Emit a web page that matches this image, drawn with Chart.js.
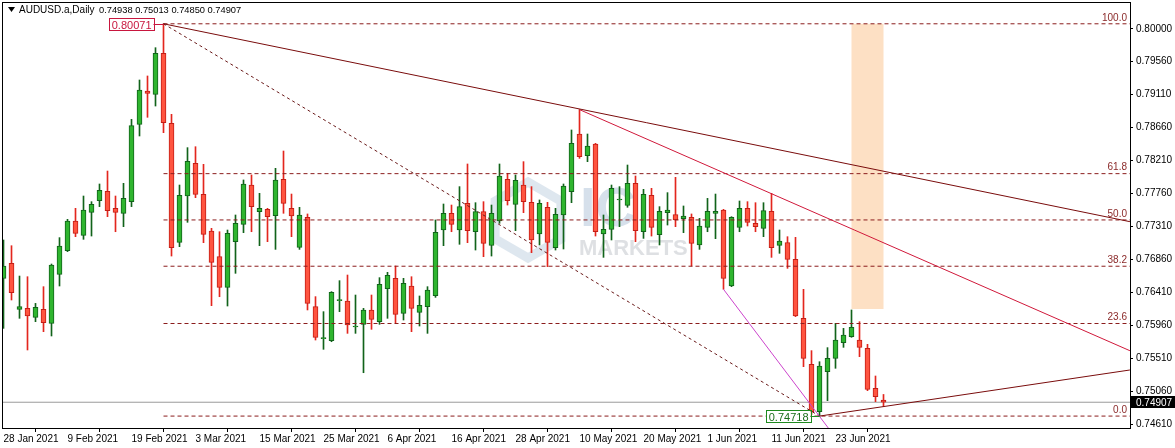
<!DOCTYPE html>
<html>
<head>
<meta charset="utf-8">
<script src="https://cdn.jsdelivr.net/npm/chart.js@4.4.0/dist/chart.umd.min.js"></script>
<style>
  html, body { margin: 0; padding: 0; background: #fff; overflow: hidden; }
  canvas { display: block; }
</style>
</head>
<body>
<canvas id="chart" width="1175" height="448"></canvas>
<script>
// Symbol info
const symbol = "AUDUSD.a";
const period = "Daily";

// Date ticks (bar index -> label)
const tickIndex = [0, 8, 16, 24, 32, 40, 48, 56, 64, 72, 80, 88, 96, 104];
const tickLabels = ["28 Jan 2021", "9 Feb 2021", "19 Feb 2021", "3 Mar 2021", "15 Mar 2021",
  "25 Mar 2021", "6 Apr 2021", "16 Apr 2021", "28 Apr 2021", "10 May 2021", "20 May 2021",
  "1 Jun 2021", "11 Jun 2021", "23 Jun 2021"];

const priceTicks = [0.80000, 0.79560, 0.79110, 0.78660, 0.78210, 0.77760, 0.77310,
  0.76860, 0.76410, 0.75960, 0.75510, 0.75060, 0.74610];

// Daily candles
const opens = [
  0.76598, 0.76802, 0.76175, 0.76188, 0.76065, 0.76175, 0.75984, 0.76652, 0.76975, 0.77380,
  0.77184, 0.77498, 0.77658, 0.77785, 0.77553, 0.77485, 0.77644, 0.78699, 0.79154, 0.79109,
  0.79668, 0.78713, 0.77089, 0.77721, 0.78167, 0.77744, 0.77244, 0.76893, 0.76475, 0.77098,
  0.77335, 0.77871, 0.77507, 0.77539, 0.77453, 0.77949, 0.77553, 0.77021, 0.77430, 0.76211,
  0.75774, 0.75747, 0.76293, 0.76288, 0.75934, 0.75970, 0.76166, 0.76006, 0.76457, 0.76598,
  0.76120, 0.76493, 0.76134, 0.76211, 0.76361, 0.77257, 0.77485, 0.77257, 0.77621, 0.77234,
  0.77507, 0.77048, 0.77380, 0.77949, 0.77608, 0.77871, 0.77635, 0.77203, 0.77567, 0.77016,
  0.77462, 0.77780, 0.78567, 0.78272, 0.78431, 0.77203, 0.77266, 0.77667, 0.77594, 0.77894,
  0.77234, 0.77730, 0.77194, 0.77494, 0.77467, 0.77412, 0.77430, 0.77053, 0.77294, 0.77485,
  0.77530, 0.76493, 0.77294, 0.77553, 0.77348, 0.77280, 0.77512, 0.77048, 0.77084, 0.76857,
  0.76052, 0.75424, 0.74778, 0.75324, 0.75506, 0.75720, 0.75802, 0.75756, 0.75642, 0.75097,
  0.74938
];
const highs = [
  0.77121, 0.77043, 0.76629, 0.76620, 0.76256, 0.76484, 0.76793, 0.77153, 0.77403, 0.77553,
  0.77721, 0.77644, 0.77885, 0.78062, 0.77721, 0.77894, 0.78767, 0.79304, 0.79359, 0.79745,
  0.80071, 0.78836, 0.77871, 0.78381, 0.78394, 0.78153, 0.77280, 0.77234, 0.77257, 0.77462,
  0.77940, 0.78008, 0.77758, 0.77553, 0.78099, 0.78335, 0.77748, 0.77567, 0.77476, 0.76348,
  0.76143, 0.76416, 0.76566, 0.76643, 0.76370, 0.76188, 0.76370, 0.76607, 0.76680, 0.76766,
  0.76598, 0.76620, 0.76357, 0.76484, 0.77394, 0.77612, 0.77598, 0.77849, 0.78158, 0.77630,
  0.77644, 0.77598, 0.78158, 0.78031, 0.78008, 0.78190, 0.77849, 0.77667, 0.77635, 0.77553,
  0.77885, 0.78622, 0.78900, 0.78567, 0.78440, 0.77462, 0.77871, 0.77849, 0.78144, 0.77994,
  0.77812, 0.77826, 0.77576, 0.77767, 0.77976, 0.77585, 0.77476, 0.77416, 0.77689, 0.77748,
  0.77539, 0.77439, 0.77653, 0.77644, 0.77630, 0.77630, 0.77758, 0.77257, 0.77166, 0.77157,
  0.76448, 0.75611, 0.75460, 0.75652, 0.75984, 0.75915, 0.76166, 0.76006, 0.75697, 0.75265,
  0.75013
];
const lows = [
  0.75915, 0.76302, 0.76052, 0.75620, 0.76006, 0.75870, 0.75811, 0.76493, 0.76962, 0.77166,
  0.77130, 0.77175, 0.77576, 0.77439, 0.77234, 0.77303, 0.77576, 0.78540, 0.78795, 0.78949,
  0.78585, 0.76902, 0.77030, 0.77362, 0.77698, 0.77084, 0.76225, 0.76347, 0.76220, 0.76666,
  0.77221, 0.77234, 0.77043, 0.77098, 0.76993, 0.77485, 0.77166, 0.76993, 0.76166, 0.75756,
  0.75629, 0.75733, 0.76143, 0.75847, 0.75847, 0.75310, 0.75902, 0.75970, 0.76052, 0.75993,
  0.76029, 0.75870, 0.75947, 0.75847, 0.76338, 0.77043, 0.77234, 0.77062, 0.77084, 0.76984,
  0.76893, 0.76902, 0.77348, 0.77598, 0.77248, 0.77494, 0.76948, 0.77053, 0.76757, 0.76984,
  0.76998, 0.77630, 0.78235, 0.78190, 0.77175, 0.76884, 0.77121, 0.77303, 0.77567, 0.77098,
  0.77143, 0.77175, 0.77053, 0.77325, 0.77303, 0.77221, 0.76766, 0.76993, 0.77234, 0.77139,
  0.76448, 0.76484, 0.77234, 0.77312, 0.77234, 0.77166, 0.76884, 0.76939, 0.76734, 0.76075,
  0.75392, 0.74740, 0.74718, 0.74928, 0.75370, 0.75656, 0.75793, 0.75529, 0.75065, 0.74915,
  0.74850
];
const closes = [
  0.76766, 0.76402, 0.76211, 0.76084, 0.76202, 0.75993, 0.76780, 0.77039, 0.77380, 0.77212,
  0.77530, 0.77608, 0.77798, 0.77521, 0.77498, 0.77689, 0.78681, 0.79168, 0.79122, 0.79668,
  0.78722, 0.77016, 0.77730, 0.78194, 0.77744, 0.77198, 0.76816, 0.76475, 0.77212, 0.77348,
  0.77885, 0.77576, 0.77553, 0.77439, 0.77940, 0.77621, 0.77448, 0.77462, 0.76257, 0.75793,
  0.75783, 0.76407, 0.76307, 0.75961, 0.75947, 0.76166, 0.76038, 0.76516, 0.76639, 0.76106,
  0.76529, 0.76188, 0.76229, 0.76438, 0.77225, 0.77485, 0.77335, 0.77576, 0.77248, 0.77507,
  0.77075, 0.77485, 0.77994, 0.77658, 0.77935, 0.77644, 0.77121, 0.77621, 0.77089, 0.77471,
  0.77858, 0.78440, 0.78258, 0.78403, 0.77234, 0.77266, 0.77826, 0.77676, 0.77894, 0.77248,
  0.77744, 0.77294, 0.77512, 0.77530, 0.77394, 0.77448, 0.77075, 0.77312, 0.77512, 0.77512,
  0.76598, 0.77430, 0.77553, 0.77362, 0.77303, 0.77521, 0.77016, 0.77107, 0.76857, 0.76084,
  0.75506, 0.74778, 0.75401, 0.75506, 0.75756, 0.75824, 0.75929, 0.75656, 0.75083, 0.74983,
  0.74907
];

// Drawing objects (bar index, price)
const fibHigh = 0.80071, fibLow = 0.74718;
const fibFromBar = 20, fibToBar = 102;
const fibLevels = [0, 23.6, 38.2, 50, 61.8, 100];
const trendA = [[20, 0.80071], [140.8, 0.77371]];
const trendB = [[72, 0.78900], [140.8, 0.75610]];
const trendC = [[102, 0.74718], [140.8, 0.75347]];
const magentaLine = [[90, 0.76448], [103.1, 0.74555]];
const zoneBars = [106, 110];
const zonePrices = [0.76179, 0.80071];
const lastPrice = 0.74907;

// Axis window
const xMin = -0.1875, xMax = 140.8125;
const yMin = 0.7455542, yMax = 0.8036843;

const UP = "#2fb52f", UP_EDGE = "#11631a";
const DOWN = "#ff5440", DOWN_EDGE = "#c41e16", DOWN_WICK = "#e3261e";

const isUp = closes.map((c, i) => c >= opens[i]);
const fibPrice = (lvl) => fibLow + (fibHigh - fibLow) * lvl / 100;

function lineSet(points, color, dash, order) {
  return {
    type: "line",
    data: points.map(([x, y]) => ({ x, y })),
    borderColor: color,
    borderWidth: 1,
    borderDash: dash || [],
    pointRadius: 0,
    fill: false,
    tension: 0,
    order: order ?? 0,
  };
}

const datasets = [
  {
    // candle bodies
    data: opens.map((o, i) => ({ x: i, y: [o, closes[i]] })),
    backgroundColor: isUp.map((u) => (u ? UP : DOWN)),
    borderColor: isUp.map((u) => (u ? UP_EDGE : DOWN_EDGE)),
    borderWidth: 1,
    borderSkipped: false,
    barThickness: 5,
    minBarLength: 1,
    grouped: false,
    order: 1,
  },
  {
    // wicks
    data: lows.map((l, i) => ({ x: i, y: [l, highs[i]] })),
    backgroundColor: isUp.map((u) => (u ? UP_EDGE : DOWN_WICK)),
    borderWidth: 0,
    barThickness: 1,
    grouped: false,
    order: 2,
  },
  lineSet([[xMin, lastPrice], [xMax, lastPrice]], "#9a9a9a", null, 3),
  lineSet(trendA, "#7a0c0c"),
  lineSet(trendB, "#d0183a"),
  lineSet(trendC, "#7a0c0c"),
  lineSet(magentaLine, "#cc44cc"),
  lineSet([[fibFromBar, fibHigh], [fibToBar, fibLow]], "#6a1a1a", [3, 3]),
  ...fibLevels.map((lvl) =>
    lineSet([[fibFromBar, fibPrice(lvl)], [xMax, fibPrice(lvl)]], "#8b1c1c", [4, 3])
  ),
];

// Extra drawing: watermark, zone, labels, frame
const overlay = {
  id: "overlay",
  beforeDatasetsDraw(chart) {
    const { ctx, chartArea: a } = chart;
    const X = (v) => chart.scales.x.getPixelForValue(v);
    const Y = (v) => chart.scales.y.getPixelForValue(v);
    ctx.save();
    ctx.beginPath();
    ctx.rect(a.left, a.top, a.right - a.left, a.bottom - a.top);
    ctx.clip();

    // watermark
    ctx.strokeStyle = "rgba(190,208,224,0.5)";
    ctx.lineWidth = 9;
    ctx.beginPath();
    for (let k = 0; k < 6; k++) {
      const ang = Math.PI / 6 + k * Math.PI / 3;
      const px = 528 + 38 * Math.cos(ang), py = 220 + 38 * Math.sin(ang);
      k ? ctx.lineTo(px, py) : ctx.moveTo(px, py);
    }
    ctx.closePath();
    ctx.stroke();
    ctx.fillStyle = "rgba(186,204,222,0.6)";
    ctx.font = "bold 56px 'Liberation Sans', Arial, sans-serif";
    ctx.textBaseline = "alphabetic";
    ctx.fillText("IC", 580, 226);
    ctx.fillStyle = "rgba(190,194,200,0.5)";
    ctx.font = "bold 22px 'Liberation Sans', Arial, sans-serif";
    ctx.fillText("MARKETS", 579, 255);

    // target zone
    ctx.fillStyle = "#fde0c4";
    const zx = X(zoneBars[0]), zy = Y(zonePrices[1]);
    ctx.fillRect(zx, zy, X(zoneBars[1]) - zx, Y(zonePrices[0]) - zy);
    ctx.restore();
  },
  afterDatasetsDraw(chart) {
    const { ctx, chartArea: a } = chart;
    const X = (v) => chart.scales.x.getPixelForValue(v);
    const Y = (v) => chart.scales.y.getPixelForValue(v);
    ctx.save();

    // fib level labels
    ctx.font = "10px 'Liberation Sans', Arial, sans-serif";
    ctx.fillStyle = "#8b2a2a";
    ctx.textAlign = "right";
    ctx.textBaseline = "bottom";
    fibLevels.forEach((lvl) => ctx.fillText(lvl.toFixed(1), a.right - 3, Y(fibPrice(lvl)) - 1));

    // high / low price boxes
    ctx.font = "11px 'Liberation Sans', Arial, sans-serif";
    ctx.textAlign = "left";
    ctx.textBaseline = "middle";
    const box = (bar, price, gap, edge, text) => {
      const label = price.toFixed(5);
      const w = ctx.measureText(label).width + 5;
      const right = X(bar) - gap;
      const yc = Math.round(Y(price)) + 0.5;
      ctx.fillStyle = "#fff";
      ctx.fillRect(right - w, yc - 6, w, 12);
      ctx.strokeStyle = edge;
      ctx.lineWidth = 1;
      ctx.strokeRect(Math.round(right - w) + 0.5, yc - 6, Math.round(w), 12);
      ctx.beginPath();
      ctx.moveTo(right, yc);
      ctx.lineTo(X(bar), yc);
      ctx.stroke();
      ctx.fillStyle = text;
      ctx.fillText(label, right - w + 3, yc + 1);
    };
    box(fibFromBar, fibHigh, 10, "#c8163e", "#c8163e");
    box(fibToBar, fibLow, 9, "#1f8a1f", "#1a6e1a");

    // frame
    ctx.strokeStyle = "#000";
    ctx.strokeRect(a.left + 0.5, a.top + 0.5, a.right - a.left, a.bottom - a.top);

    // title
    const n = closes.length - 1;
    ctx.fillStyle = "#000";
    ctx.beginPath();
    ctx.moveTo(8, 7); ctx.lineTo(15, 7); ctx.lineTo(11.5, 12); ctx.closePath();
    ctx.fill();
    ctx.font = "10px 'Liberation Sans', Arial, sans-serif";
    ctx.textBaseline = "middle";
    ctx.fillText(`${symbol},${period}`, 19, 10);
    ctx.font = "9.3px 'Liberation Sans', Arial, sans-serif";
    ctx.fillText([opens[n], highs[n], lows[n], closes[n]].map((v) => v.toFixed(5)).join(" "), 99, 10);
    ctx.restore();
  },
  afterDraw(chart) {
    const { ctx, chartArea: a } = chart;
    const yc = Math.round(chart.scales.y.getPixelForValue(lastPrice));
    ctx.save();
    ctx.fillStyle = "#000";
    ctx.fillRect(a.right + 1, yc - 6, chart.width - a.right - 1, 12);
    ctx.fillStyle = "#fff";
    ctx.font = "10px 'Liberation Sans', Arial, sans-serif";
    ctx.textBaseline = "middle";
    ctx.fillText(lastPrice.toFixed(5), a.right + 6, yc + 1);
    ctx.restore();
  },
};

const axisFont = { family: "'Liberation Sans', Arial, sans-serif", size: 10 };

new Chart(document.getElementById("chart"), {
  type: "bar",
  data: { datasets },
  plugins: [overlay],
  options: {
    responsive: false,
    animation: false,
    events: [],
    layout: { padding: { top: 2, left: 2, right: 0, bottom: 0 } },
    plugins: { legend: { display: false }, tooltip: { enabled: false } },
    scales: {
      x: {
        type: "linear",
        offset: false,
        min: xMin,
        max: xMax,
        afterBuildTicks: (scale) => {
          scale.ticks = tickIndex.map((v) => ({ value: v }));
        },
        afterFit: (scale) => {
          scale.height = 20;
          scale.paddingLeft = 0;
          scale.paddingRight = 0;
        },
        ticks: {
          autoSkip: false,
          maxRotation: 0,
          minRotation: 0,
          align: "start",
          padding: 1,
          color: "#000",
          font: axisFont,
          callback: (v) => tickLabels[tickIndex.indexOf(v)] ?? "",
        },
        grid: { drawOnChartArea: false, drawTicks: true, tickLength: 4, color: "#000" },
        border: { display: true, color: "#000" },
      },
      y: {
        position: "right",
        min: yMin,
        max: yMax,
        afterBuildTicks: (scale) => {
          scale.ticks = priceTicks.map((v) => ({ value: v }));
        },
        afterFit: (scale) => {
          scale.width = 45;
          scale.paddingTop = 0;
          scale.paddingBottom = 0;
        },
        ticks: {
          padding: 3,
          color: "#000",
          font: axisFont,
          callback: (v) => v.toFixed(5),
        },
        grid: { drawOnChartArea: false, drawTicks: true, tickLength: 3, color: "#000" },
        border: { display: true, color: "#000" },
      },
    },
  },
});
</script>
</body>
</html>
